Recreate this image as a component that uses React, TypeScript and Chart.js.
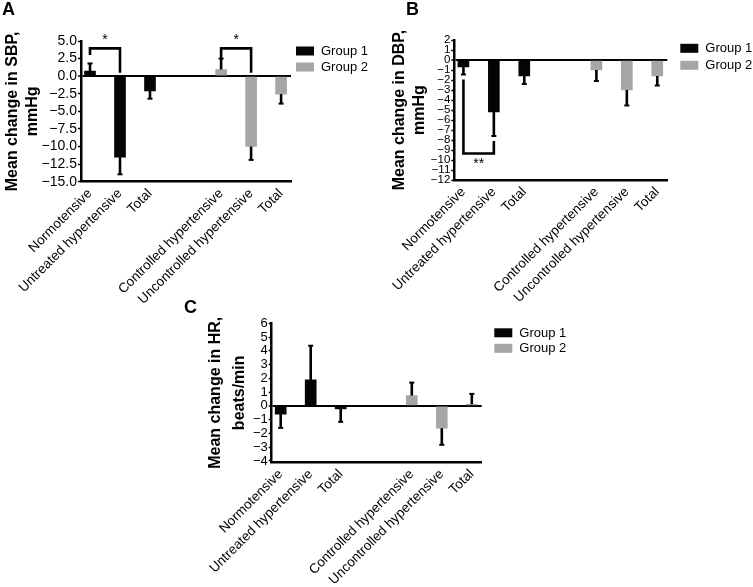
import React, { useEffect, useRef } from "react";
import { Chart, registerables } from "chart.js";

Chart.register(...registerables);

const FONT = "'Liberation Sans', Arial, Helvetica, sans-serif";

// ---------- data ----------
const categories = [
  "Normotensive",
  "Untreated hypertensive",
  "Total",
  "Controlled hypertensive",
  "Uncontrolled hypertensive",
  "Total",
];
const categoryPositions = [0, 1, 2, 4.37, 5.37, 6.37];
const seriesNames = ["Group 1", "Group 2"];
const seriesColors = ["#050505", "#a6a6a6"];

const sbpGroup1 = [0.71, -11.5, -2.1, null, null, null];
const sbpGroup2 = [null, null, null, 0.95, -10.0, -2.55];
const sbpError1 = [1.1, 2.45, 1.1, null, null, null];
const sbpError2 = [null, null, null, 1.55, 1.9, 1.35];

const dbpGroup1 = [-0.7, -5.2, -1.6, null, null, null];
const dbpGroup2 = [null, null, null, -1.0, -3.0, -1.6];
const dbpError1 = [0.75, 2.4, 0.8, null, null, null];
const dbpError2 = [null, null, null, 1.1, 1.55, 0.95];

const hrGroup1 = [-0.6, 1.89, -0.22, null, null, null];
const hrGroup2 = [null, null, null, 0.75, -1.62, 0.12];
const hrError1 = [1.0, 2.48, 0.94, null, null, null];
const hrError2 = [null, null, null, 0.94, 1.21, 0.75];

const sbpAxis = { min: -15, max: 5, step: 2.5, decimals: 1 };
const dbpAxis = { min: -12, max: 2, step: 1, decimals: 0 };
const hrAxis = { min: -4.1, max: 6, step: 1, decimals: 0 };

const sbpTitle = ["Mean change in SBP,", "mmHg"];
const dbpTitle = ["Mean change in DBP,", "mmHg"];
const hrTitle = ["Mean change in HR,", "beats/min"];

// significance brackets: category indices, bracket level and leg end values
const sbpBrackets = [
  { from: 0, to: 1, level: 3.95, fromEnd: 3.0, toEnd: 0.5, label: "*" },
  { from: 3, to: 4, level: 3.95, fromEnd: 2.55, toEnd: 0.5, label: "*" },
];
const dbpBrackets = [
  { from: 0, to: 1, level: -9.35, fromEnd: -1.95, toEnd: -8.1, label: "**" },
];
const hrBrackets: any[] = [];

// ---------- plugins ----------
const errorBarPlugin = {
  id: "errorBars",
  afterDatasetsDraw(chart: any) {
    const { ctx } = chart;
    const ys = chart.scales.y;
    ctx.save();
    ctx.strokeStyle = "#000";
    ctx.fillStyle = "#000";
    chart.data.datasets.forEach((ds: any, d: number) => {
      const meta = chart.getDatasetMeta(d);
      ds.data.forEach((pt: any, i: number) => {
        const v = pt.y;
        const e = ds.errors[i];
        if (v == null || e == null) return;
        const el = meta.data[i];
        const x = el.x;
        const y0 = ys.getPixelForValue(v);
        const y1 = ys.getPixelForValue(v + (v >= 0 ? e : -e));
        ctx.lineWidth = 2.6;
        ctx.beginPath();
        ctx.moveTo(x, y0);
        ctx.lineTo(x, y1);
        ctx.stroke();
        ctx.fillRect(x - 2.5, y1 - 1, 5, 2);
      });
    });
    ctx.restore();
  },
};

const makeBracketPlugin = (brackets: any[]) => ({
  id: "sigBrackets",
  afterDatasetsDraw(chart: any) {
    const { ctx } = chart;
    const xs = chart.scales.x;
    const ys = chart.scales.y;
    ctx.save();
    ctx.strokeStyle = "#000";
    ctx.fillStyle = "#000";
    ctx.lineWidth = 2.6;
    ctx.lineCap = "butt";
    ctx.lineJoin = "miter";
    ctx.font = `14px ${FONT}`;
    ctx.textAlign = "center";
    ctx.textBaseline = "alphabetic";
    brackets.forEach((b) => {
      const x1 = xs.getPixelForValue(categoryPositions[b.from]);
      const x2 = xs.getPixelForValue(categoryPositions[b.to]);
      const yL = ys.getPixelForValue(b.level);
      const y1 = ys.getPixelForValue(b.fromEnd);
      const y2 = ys.getPixelForValue(b.toEnd);
      ctx.beginPath();
      ctx.moveTo(x1, y1);
      ctx.lineTo(x1, yL);
      ctx.lineTo(x2, yL);
      ctx.lineTo(x2, y2);
      ctx.stroke();
      const above = b.level > b.toEnd;
      ctx.fillText(b.label, (x1 + x2) / 2, above ? yL - 4 : yL + 14);
    });
    ctx.restore();
  },
});

const makeLegendPlugin = (dx: number, dy: number, gap: number) => ({
  id: "sideLegend",
  afterDraw(chart: any) {
    const { ctx, chartArea } = chart;
    ctx.save();
    ctx.font = `13px ${FONT}`;
    ctx.textBaseline = "middle";
    ctx.textAlign = "left";
    chart.data.datasets.forEach((ds: any, i: number) => {
      const x = chartArea.right + dx;
      const y = chartArea.top + dy + i * gap;
      ctx.fillStyle = ds.backgroundColor;
      ctx.fillRect(x, y - 4.5, 18, 9);
      ctx.fillStyle = "#000";
      ctx.fillText(ds.label, x + 25, y + 0.5);
    });
    ctx.restore();
  },
});

const fmtMinus = (s: string) => s.replace("-", "\u2212");

type PanelProps = {
  g1: (number | null)[];
  g2: (number | null)[];
  e1: (number | null)[];
  e2: (number | null)[];
  axis: { min: number; max: number; step: number; decimals: number };
  title: string[];
  brackets: any[];
  rect: { left: number; top: number; w: number; h: number };
  pad: { left: number; top: number; right: number; bottom: number };
  yWidth: number;
  xHeight: number;
  titlePad: number;
  titleLH: number;
  tickSize: number;
  legend: { dx: number; dy: number; gap: number };
};

function Panel(p: PanelProps) {
  const ref = useRef<HTMLCanvasElement | null>(null);
  useEffect(() => {
    if (!ref.current) return;
    const toPoints = (vals: (number | null)[]) =>
      categoryPositions.map((x, i) => ({ x, y: vals[i] }));
    const chart = new Chart(ref.current, {
      type: "bar",
      data: {
        datasets: [
          {
            label: seriesNames[0],
            data: toPoints(p.g1) as any,
            errors: p.e1,
            backgroundColor: seriesColors[0],
            barThickness: 11,
            grouped: false,
          } as any,
          {
            label: seriesNames[1],
            data: toPoints(p.g2) as any,
            errors: p.e2,
            backgroundColor: seriesColors[1],
            barThickness: 11,
            grouped: false,
          } as any,
        ],
      },
      options: {
        animation: false,
        responsive: false,
        maintainAspectRatio: false,
        devicePixelRatio: 1,
        layout: { padding: p.pad },
        plugins: { legend: { display: false }, tooltip: { enabled: false } },
        scales: {
          x: {
            type: "linear",
            min: -0.3,
            max: 6.7,
            offset: false,
            grid: { display: false, drawTicks: false },
            border: { display: true, color: "#000", width: 2.5 },
            afterBuildTicks: (s: any) => {
              s.ticks = categoryPositions.map((v) => ({ value: v }));
            },
            afterFit: (s: any) => {
              s.height = p.xHeight;
            },
            ticks: {
              autoSkip: false,
              maxRotation: 45,
              minRotation: 45,
              padding: 4,
              color: "#000",
              font: { family: FONT, size: 13.5 },
              callback: (_v: any, i: number) => categories[i],
            },
          },
          y: {
            type: "linear",
            min: p.axis.min,
            max: p.axis.max,
            afterBuildTicks: (s: any) => {
              const lo = Math.ceil(p.axis.min / p.axis.step - 1e-9);
              const hi = Math.floor(p.axis.max / p.axis.step + 1e-9);
              const t: any[] = [];
              for (let k = lo; k <= hi; k++) t.push({ value: k * p.axis.step });
              s.ticks = t;
            },
            afterFit: (s: any) => {
              s.width = p.yWidth;
            },
            ticks: {
              stepSize: p.axis.step,
              autoSkip: false,
              padding: 1,
              color: "#000",
              font: { family: FONT, size: p.tickSize },
              callback: (v: any) => fmtMinus(Number(v).toFixed(p.axis.decimals)),
            },
            grid: {
              drawOnChartArea: true,
              drawTicks: true,
              tickLength: 3,
              tickColor: "#000",
              tickWidth: 1.5,
              color: (c: any) =>
                c.tick && Math.abs(c.tick.value) < 1e-9 ? "#000" : "rgba(0,0,0,0)",
              lineWidth: (c: any) =>
                c.tick && Math.abs(c.tick.value) < 1e-9 ? 2 : 1,
            },
            border: { display: true, color: "#000", width: 2.5 },
            title: {
              display: true,
              text: p.title,
              color: "#000",
              font: { family: FONT, size: 16, weight: "bold", lineHeight: p.titleLH },
              padding: { top: p.titlePad, bottom: 0 },
            },
          },
        },
      } as any,
      plugins: [
        errorBarPlugin,
        makeBracketPlugin(p.brackets),
        makeLegendPlugin(p.legend.dx, p.legend.dy, p.legend.gap),
      ],
    });
    return () => chart.destroy();
  }, []);
  return (
    <canvas
      ref={ref}
      width={p.rect.w}
      height={p.rect.h}
      style={{
        position: "absolute",
        left: p.rect.left,
        top: p.rect.top,
        width: p.rect.w,
        height: p.rect.h,
        display: "block",
      }}
    />
  );
}

const letterStyle = (left: number, top: number): React.CSSProperties => ({
  position: "absolute",
  left,
  top,
  fontFamily: FONT,
  fontWeight: "bold",
  fontSize: 18,
  lineHeight: "18px",
  color: "#000",
});

export default function App() {
  return (
    <div
      style={{
        position: "absolute",
        left: 0,
        top: 0,
        width: 753,
        height: 587,
        background: "#fff",
        overflow: "hidden",
      }}
    >
      <Panel
        g1={sbpGroup1}
        g2={sbpGroup2}
        e1={sbpError1}
        e2={sbpError2}
        axis={sbpAxis}
        title={sbpTitle}
        brackets={sbpBrackets}
        rect={{ left: 0, top: 0, w: 390, h: 312 }}
        pad={{ left: 0, top: 41, right: 99, bottom: 0 }}
        yWidth={81}
        xHeight={130.3}
        titlePad={3}
        titleLH={1.25}
        tickSize={14}
        legend={{ dx: 5, dy: 10, gap: 16 }}
      />
      <Panel
        g1={dbpGroup1}
        g2={dbpGroup2}
        e1={dbpError1}
        e2={dbpError2}
        axis={dbpAxis}
        title={dbpTitle}
        brackets={dbpBrackets}
        rect={{ left: 390, top: 0, w: 363, h: 312 }}
        pad={{ left: 0, top: 40, right: 85.7, bottom: 0 }}
        yWidth={64.3}
        xHeight={132}
        titlePad={0}
        titleLH={1.25}
        tickSize={11.5}
        legend={{ dx: 13, dy: 8.3, gap: 17 }}
      />
      <Panel
        g1={hrGroup1}
        g2={hrGroup2}
        e1={hrError1}
        e2={hrError2}
        axis={hrAxis}
        title={hrTitle}
        brackets={hrBrackets}
        rect={{ left: 190, top: 295, w: 390, h: 292 }}
        pad={{ left: 0, top: 28.3, right: 98.3, bottom: 0 }}
        yWidth={81.7}
        xHeight={124.7}
        titlePad={14}
        titleLH={1.5}
        tickSize={13}
        legend={{ dx: 12.6, dy: 9.5, gap: 15.5 }}
      />
      <div style={letterStyle(2, 0)}>A</div>
      <div style={letterStyle(406, 0)}>B</div>
      <div style={letterStyle(184, 298)}>C</div>
    </div>
  );
}
